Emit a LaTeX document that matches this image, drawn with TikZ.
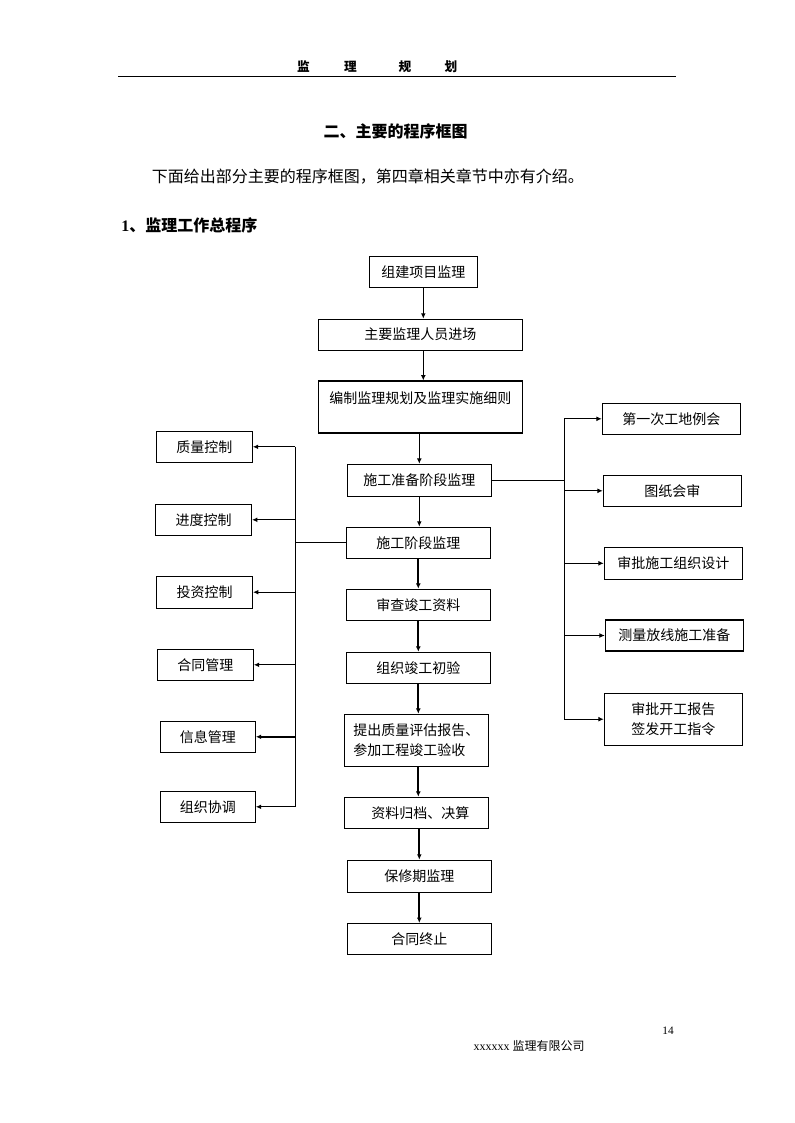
\documentclass[tikz,border=0pt]{standalone}
\usepackage{fontspec}
\setmainfont{Liberation Serif}
\newfontfamily\cjk{Noto Sans CJK SC}
\usetikzlibrary{arrows.meta}
\begin{document}
\begin{tikzpicture}[x=0.75pt,y=-0.75pt,
  box/.style={draw, line width=0.8pt, inner sep=0pt, font=\cjk\fontsize{10.5}{15}\selectfont},
  sz/.style n args={2}{minimum width=#1*0.75pt, minimum height=#2*0.75pt},
  txt/.style={inner sep=0pt, font=\cjk\fontsize{10.5}{15}\selectfont},
  ln/.style={line width=0.75pt},
  arr/.style={line width=0.75pt, -{Latex[length=4pt,width=3.6pt]}},
  tarr/.style={line width=1.5pt, -{Latex[length=4pt,width=3.6pt]}},
  hdr/.style={inner sep=0pt, font=\cjk\bfseries\fontsize{9.5}{11}\selectfont}]
\useasboundingbox (0,0) rectangle (794,1123);
% header
\node[hdr] (h1) at (303.5,67) {监};
\node[hdr] (h2) at (350.5,67) {理};
\node[hdr] (h3) at (405,67) {规};
\node[hdr] (h4) at (451,67) {划};
\draw[line width=0.9pt] (118,76.5) -- (676,76.5);
% titles
\node[inner sep=0pt, font=\cjk\bfseries\fontsize{12}{14}\selectfont] (title) at (395.6,131.7) {二、主要的程序框图};
\node[inner sep=0pt, anchor=west, font=\cjk\fontsize{12}{14}\selectfont] (para) at (151.7,177) {下面给出部分主要的程序框图，第四章相关章节中亦有介绍。};
\node[inner sep=0pt, anchor=west, font=\fontsize{12}{14}\selectfont] (sec) at (121,225) {\textbf{1}{\cjk\bfseries 、监理工作总程序}};
% central column
\node[box, sz={108}{31}] (a) at (423.3,271.7) {组建项目监理};
\node[box, sz={204}{31}] (b) at (420.3,334.7) {主要监理人员进场};
\node[box, sz={204}{52}] (c) at (420.3,407) {};
\node[txt] (ct) at (420.3,398) {编制监理规划及监理实施细则};
\node[box, sz={144}{32}] (d) at (419.3,480.3) {施工准备阶段监理};
\node[box, sz={144}{31}] (e) at (418.3,542.7) {施工阶段监理};
\node[box, sz={144}{31}] (f) at (418.3,604.8) {审查竣工资料};
\node[box, sz={144}{31}] (g) at (418.3,667.8) {组织竣工初验};
\node[box, sz={144}{52}, align=left] (h) at (416.3,740.3) {提出质量评估报告、\\参加工程竣工验收};
\node[box, sz={144}{31}] (i) at (416.3,812.8) {\hspace*{6pt}资料归档、决算};
\node[box, sz={144}{32}] (j) at (419.3,876.2) {保修期监理};
\node[box, sz={144}{31}] (k) at (419.3,939) {合同终止};
% left column
\node[box, sz={96}{31}] (l1) at (204.3,446.8) {质量控制};
\node[box, sz={96}{31}] (l2) at (203.5,519.8) {进度控制};
\node[box, sz={96}{32}] (l3) at (204.5,592.2) {投资控制};
\node[box, sz={96}{31}] (l4) at (205.3,664.8) {合同管理};
\node[box, sz={95}{31}] (l5) at (207.8,736.8) {信息管理};
\node[box, sz={95}{31}] (l6) at (207.8,806.8) {组织协调};
% right column
\node[box, sz={138}{31}] (r1) at (671.3,418.8) {第一次工地例会};
\node[box, sz={138}{31}] (r2) at (672.3,490.8) {图纸会审};
\node[box, sz={138}{32}] (r3) at (673.3,563.3) {审批施工组织设计};
\node[box, sz={138}{31}] (r4) at (674.3,635.5) {测量放线施工准备};
\node[box, sz={138}{52}, align=center] (r5) at (673.3,719.2) {审批开工报告\\签发开工指令};
% central arrows
\draw[arr] (a.south) -- (a.south |- b.north);
\draw[arr] (a.south |- b.south) -- (a.south |- c.north);
\draw[arr] (d.north |- c.south) -- (d.north);
\draw[arr] (d.south) -- (d.south |- e.north);
\draw[tarr] (f.north |- e.south) -- (f.north);
\draw[tarr] (f.south) -- (f.south |- g.north);
\draw[tarr] (g.south) -- (g.south |- h.north);
\draw[tarr] (g.south |- h.south) -- (g.south |- i.north);
\draw[tarr] (j.north |- i.south) -- (j.north);
\draw[tarr] (j.south) -- (j.south |- k.north);
% left branch
\coordinate (lt) at (295.3,446.8);
\coordinate (lb) at (295.3,806.8);
\draw[ln] (lt) -- (lb);
\draw[ln] (e.west) -- (e.west -| lt);
\draw[arr] (lt) -- (l1.east);
\draw[arr] (lt |- l2.east) -- (l2.east);
\draw[arr] (lt |- l3.east) -- (l3.east);
\draw[arr] (lt |- l4.east) -- (l4.east);
\draw[tarr] (lt |- l5.east) -- (l5.east);
\draw[arr] (lb) -- (l6.east);
% right branch
\coordinate (rt) at (564.3,418.8);
\coordinate (rb) at (564.3,719.2);
\draw[ln] (rt) -- (rb);
\draw[ln] (d.east) -- (d.east -| rt);
\draw[arr] (rt) -- (r1.west);
\draw[arr] (rt |- r2.west) -- (r2.west);
\draw[arr] (rt |- r3.west) -- (r3.west);
\draw[arr] (rt |- r4.west) -- (r4.west);
\draw[arr] (rb) -- (r5.west);
% footer
\node[inner sep=0pt, font=\fontsize{8.5}{10}\selectfont] (pg) at (668,1030.5) {14};
\node[inner sep=0pt, anchor=west, font=\fontsize{9}{11}\selectfont] (co) at (473.3,1045.5) {xxxxxx {\cjk 监理有限公司}};
\end{tikzpicture}
\end{document}
